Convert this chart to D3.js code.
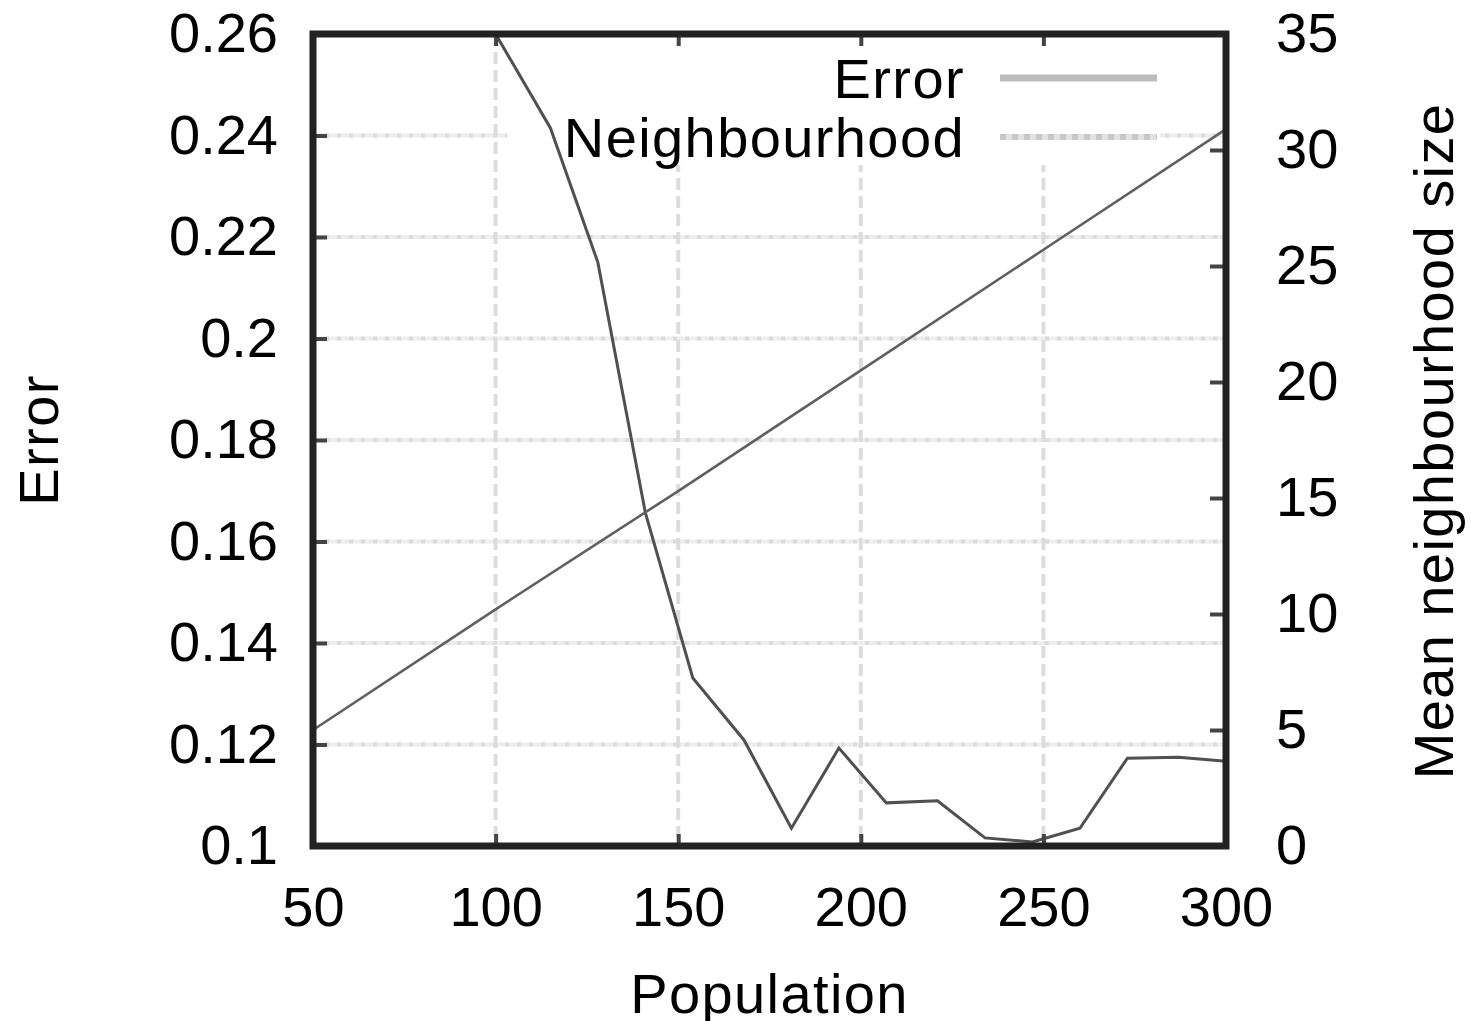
<!DOCTYPE html>
<html>
<head>
<meta charset="utf-8">
<script src="https://d3js.org/d3.v7.min.js"></script>
<style>
  body { margin: 0; background: #fff; }
  text { font-family: 'Liberation Sans', Arial, sans-serif; font-size: 56px; fill: #000; }
  .word { letter-spacing: 1.4px; }
</style>
</head>
<body>
<script>

// error curve (left axis)
var population = [100, 115, 128, 141, 154, 168, 181, 194, 207, 221, 234, 247, 260, 273, 287, 300];
var errorValues = [0.26, 0.2415, 0.215, 0.1657, 0.1331, 0.1209, 0.1035, 0.1193, 0.1085, 0.1089,
                   0.1016, 0.1008, 0.1035, 0.1173, 0.1175, 0.1167];

// mean neighbourhood size (right axis)
var neighbourPopulation = [50, 100, 150, 200, 250, 300];
var neighbourValues = [5.0, 10.2, 15.3, 20.5, 25.7, 30.9];

var xTicks = [50, 100, 150, 200, 250, 300];
var errorTicks = [0.1, 0.12, 0.14, 0.16, 0.18, 0.2, 0.22, 0.24, 0.26];
var sizeTicks = [0, 5, 10, 15, 20, 25, 30, 35];

// plot box (window.top is taken, so own names)
var plotLeft = 313, plotRight = 1226, plotTop = 34, plotBottom = 846;

var svg = d3.select('body').append('svg')
    .attr('width', 1471)
    .attr('height', 1021);

var x = d3.scaleLinear().domain([50, 300]).range([plotLeft, plotRight]);
var yErr = d3.scaleLinear().domain([0.1, 0.26]).range([plotBottom, plotTop]);
var ySize = d3.scaleLinear().domain([0, 35]).range([plotBottom, plotTop]);

// grid
var grid = svg.append('g');
grid.selectAll('.hg').data(errorTicks.slice(1, -1)).enter().append('line')
    .attr('x1', plotLeft).attr('x2', plotRight)
    .attr('y1', function(d) { return yErr(d); })
    .attr('y2', function(d) { return yErr(d); })
    .attr('stroke', '#ededed').attr('stroke-width', 4);
grid.selectAll('.hg2').data(errorTicks.slice(1, -1)).enter().append('line')
    .attr('x1', plotLeft).attr('x2', plotRight)
    .attr('y1', function(d) { return yErr(d); })
    .attr('y2', function(d) { return yErr(d); })
    .attr('stroke', '#dcdcdc').attr('stroke-width', 4)
    .attr('stroke-dasharray', '4,8');
grid.selectAll('.vg').data(xTicks.slice(1, -1)).enter().append('line')
    .attr('y1', plotTop).attr('y2', plotBottom)
    .attr('x1', function(d) { return x(d); })
    .attr('x2', function(d) { return x(d); })
    .attr('stroke', '#dcdcdc').attr('stroke-width', 4)
    .attr('stroke-dasharray', '12,6');

// opaque key background
svg.append('rect')
    .attr('x', 507).attr('y', plotTop)
    .attr('width', 653).attr('height', 131)
    .attr('fill', '#fff');

// lines
var errLine = d3.line()
    .x(function(d, i) { return x(population[i]); })
    .y(function(d) { return yErr(d); });
var sizeLine = d3.line()
    .x(function(d, i) { return x(neighbourPopulation[i]); })
    .y(function(d) { return ySize(d); });

svg.append('path').datum(errorValues)
    .attr('d', errLine)
    .attr('fill', 'none').attr('stroke', '#505050').attr('stroke-width', 3);
svg.append('path').datum(neighbourValues)
    .attr('d', sizeLine)
    .attr('fill', 'none').attr('stroke', '#606060').attr('stroke-width', 2.6);

// axes
function styleAxis(g) {
    g.select('.domain').remove();
    g.selectAll('.tick line').attr('stroke', '#444').attr('stroke-width', 4);
    g.selectAll('.tick text').attr('fill', '#000').style('font-size', '56px')
        .style('font-family', "'Liberation Sans', Arial, sans-serif");
}

svg.append('g')
    .attr('transform', 'translate(' + plotLeft + ',0)')
    .call(d3.axisLeft(yErr).tickValues(errorTicks).tickSizeInner(-14).tickSizeOuter(0)
        .tickPadding(35).tickFormat(d3.format('')))
    .call(styleAxis);

svg.append('g')
    .attr('transform', 'translate(' + plotRight + ',0)')
    .call(d3.axisRight(ySize).tickValues(sizeTicks).tickSizeInner(-16).tickSizeOuter(0)
        .tickPadding(50))
    .call(styleAxis);

svg.append('g')
    .attr('transform', 'translate(0,' + plotBottom + ')')
    .call(d3.axisBottom(x).tickValues(xTicks).tickSizeInner(-12).tickSizeOuter(0)
        .tickPadding(40))
    .call(styleAxis);

svg.append('g')
    .attr('transform', 'translate(0,' + plotTop + ')')
    .call(d3.axisTop(x).tickValues(xTicks).tickSizeInner(-12).tickSizeOuter(0)
        .tickFormat(''))
    .call(styleAxis);

// frame
svg.append('rect')
    .attr('x', plotLeft).attr('y', plotTop)
    .attr('width', plotRight - plotLeft).attr('height', plotBottom - plotTop)
    .attr('fill', 'none').attr('stroke', '#222').attr('stroke-width', 7);

// key
svg.append('text').attr('class', 'word')
    .attr('x', 965).attr('y', 98).attr('text-anchor', 'end').text('Error');
svg.append('line')
    .attr('x1', 1000).attr('x2', 1157).attr('y1', 78).attr('y2', 78)
    .attr('stroke', '#bbbbbb').attr('stroke-width', 7);

svg.append('text').attr('class', 'word')
    .attr('x', 965).attr('y', 157).attr('text-anchor', 'end').text('Neighbourhood');
svg.append('line')
    .attr('x1', 1000).attr('x2', 1157).attr('y1', 137).attr('y2', 137)
    .attr('stroke', '#e2e2e2').attr('stroke-width', 6);
svg.append('line')
    .attr('x1', 1000).attr('x2', 1157).attr('y1', 137).attr('y2', 137)
    .attr('stroke', '#c8c8c8').attr('stroke-width', 6)
    .attr('stroke-dasharray', '6,6');

// axis titles
svg.append('text').attr('class', 'word')
    .attr('transform', 'translate(58,440) rotate(-90)')
    .attr('text-anchor', 'middle').text('Error');

svg.append('text').attr('class', 'word')
    .attr('transform', 'translate(1453,441) rotate(-90)')
    .attr('text-anchor', 'middle').text('Mean neighbourhood size');

svg.append('text').attr('class', 'word')
    .attr('x', (plotLeft + plotRight) / 2).attr('y', 1013)
    .attr('text-anchor', 'middle').text('Population');

</script>
</body>
</html>
